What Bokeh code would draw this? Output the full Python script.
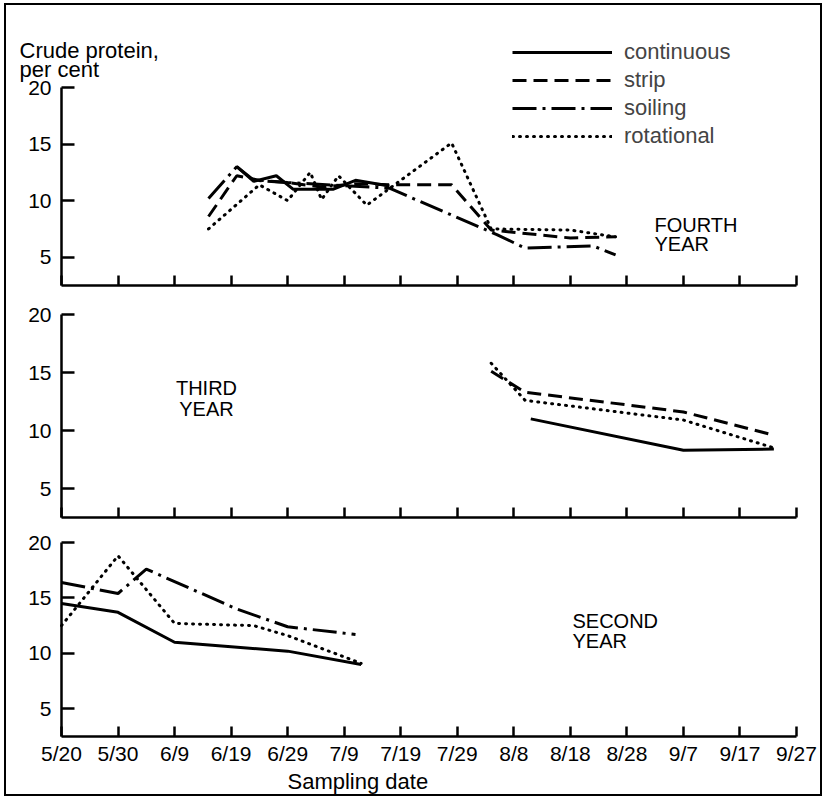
from bokeh.plotting import figure
from bokeh.models import FixedTicker, Label, Legend, LegendItem, Range1d
from bokeh.layouts import column
from bokeh.embed import file_html
from bokeh.resources import INLINE

# ---------------- data ----------------
tick_labels = ["5/20", "5/30", "6/9", "6/19", "6/29", "7/9", "7/19",
               "7/29", "8/8", "8/18", "8/28", "9/7", "9/17", "9/27"]
y_ticks = [5, 10, 15, 20]

# Fourth year
y4_cont_dates = ["6/20", "6/23", "6/27", "6/30", "7/7", "7/11", "7/17"]
y4_cont_vals = [13.0, 11.7, 12.2, 11.0, 11.0, 11.8, 11.3]
y4_strip_dates = ["6/15", "6/20", "6/24", "6/29", "7/5", "7/11", "7/17", "7/28", "8/4", "8/18", "8/26"]
y4_strip_vals = [8.6, 12.2, 11.8, 11.6, 11.2, 11.5, 11.4, 11.4, 7.4, 6.7, 6.8]
y4_soil_dates = ["6/15", "6/20", "6/23", "6/29", "7/17", "8/5", "8/10", "8/22", "8/26"]
y4_soil_vals = [10.2, 13.0, 11.8, 11.6, 11.1, 7.0, 5.8, 6.0, 5.2]
y4_rot_dates = ["6/15", "6/24", "6/29", "7/3", "7/5", "7/8", "7/13", "7/28", "8/4", "8/18", "8/26"]
y4_rot_vals = [7.5, 11.4, 10.0, 12.5, 10.1, 12.2, 9.6, 15.1, 7.5, 7.4, 6.8]

# Third year
y3_cont_dates = ["8/11", "9/7", "9/23"]
y3_cont_vals = [11.0, 8.3, 8.4]
y3_strip_dates = ["8/4", "8/10", "9/7", "9/23"]
y3_strip_vals = [15.1, 13.3, 11.6, 9.6]
y3_rot_dates = ["8/4", "8/10", "9/7", "9/23"]
y3_rot_vals = [15.8, 12.6, 10.9, 8.5]

# Second year
y2_cont_dates = ["5/20", "5/30", "6/9", "6/19", "6/29", "7/12"]
y2_cont_vals = [14.5, 13.7, 11.0, 10.6, 10.2, 9.0]
y2_soil_dates = ["5/20", "5/30", "6/4", "6/20", "6/29", "7/11"]
y2_soil_vals = [16.4, 15.4, 17.6, 14.0, 12.4, 11.7]
y2_rot_dates = ["5/20", "5/30", "6/9", "6/23", "6/29", "7/12"]
y2_rot_vals = [12.5, 18.8, 12.7, 12.5, 11.6, 9.1]

MONTH_START = {5: 0, 6: 31, 7: 61, 8: 92, 9: 123}


def days(md):
    """days since 5/20"""
    m, d = md.split("/")
    return MONTH_START[int(m)] + int(d) - 20


# ---------------- layout geometry (pixels) ----------------
FONT = "Liberation Sans"
INNER_L, INNER_T = 6, 5          # inner top-left of bordered box on the page
WIDTH = 814
AX_X0, AX_X1 = 61, 796           # page x of 5/20 and 9/27
X0, X1 = 0, 130                  # data limits of the x axis (days)
YLO, YHI = 2.5, 20

STYLES = {
    "continuous": dict(line_dash="solid"),
    "strip": dict(line_dash="14 7"),
    "soiling": dict(line_dash="24 6 3 6"),
    "rotational": dict(line_dash="1 6", line_cap="round"),
}

xs = (AX_X1 - AX_X0) / (X1 - X0)
x_start = X0 - (AX_X0 - INNER_L) / xs
x_end = X1 + (INNER_L + WIDTH - AX_X1) / xs


def make_panel(fig_top, fig_bot, py_hi, py_lo, show_labels):
    ys = (py_lo - py_hi) / (YHI - YLO)
    y_end = YHI + (py_hi - fig_top) / ys
    y_start = YLO - (fig_bot - py_lo) / ys
    p = figure(width=WIDTH, height=fig_bot - fig_top,
               x_range=Range1d(x_start, x_end), y_range=Range1d(y_start, y_end),
               output_backend="svg", toolbar_location=None,
               min_border=0, min_border_left=0, min_border_right=0,
               min_border_top=0, min_border_bottom=0)
    p.xgrid.visible = False
    p.ygrid.visible = False
    p.outline_line_color = None
    p.background_fill_color = "white"
    p.border_fill_color = "white"
    for ax in (p.xaxis[0], p.yaxis[0]):
        ax.axis_line_width = 2.5
        ax.axis_line_color = "black"
        ax.major_tick_line_width = 2.5
        ax.major_tick_line_color = "black"
        ax.major_tick_out = 0
        ax.minor_tick_in = 0
        ax.minor_tick_out = 0
        ax.major_label_text_font = FONT
        ax.major_label_text_font_size = "21px"
        ax.major_label_text_color = "black"
    ya = p.yaxis[0]
    ya.ticker = FixedTicker(ticks=y_ticks)
    ya.major_tick_in = 13
    ya.major_label_standoff = 10
    ya.bounds = (YLO, YHI)
    ya.fixed_location = X0
    xa = p.xaxis[0]
    xa.ticker = FixedTicker(ticks=[days(t) for t in tick_labels])
    xa.major_tick_in = 10
    xa.major_label_overrides = {days(t): t for t in tick_labels}
    xa.major_label_standoff = 5
    xa.bounds = (X0, X1)
    xa.fixed_location = YLO
    if not show_labels:
        xa.major_label_text_color = None
    return p, ys


def draw(p, dates, vals, kind):
    return p.line([days(d) for d in dates], vals, line_color="black", line_width=3, **STYLES[kind])


def label(p, x, y, text, align="left", size="22px"):
    p.add_layout(Label(x=x, y=y, text=text, text_font=FONT, text_font_size=size,
                       text_baseline="middle", text_align=align, text_color="black"))


def px_x(px):
    return X0 + (px - AX_X0) / xs


# ---- top panel: fourth year ----
T4, B4 = INNER_T, 298
p4, s4 = make_panel(T4, B4, 87, 285, False)
r_c = draw(p4, y4_cont_dates, y4_cont_vals, "continuous")
r_s = draw(p4, y4_strip_dates, y4_strip_vals, "strip")
r_o = draw(p4, y4_soil_dates, y4_soil_vals, "soiling")
r_r = draw(p4, y4_rot_dates, y4_rot_vals, "rotational")
py4 = lambda px: YHI - (px - 87) / s4
label(p4, px_x(654), py4(224), "FOURTH", size="20px")
label(p4, px_x(654), py4(243), "YEAR", size="20px")
label(p4, px_x(19), py4(50), "Crude protein,")
label(p4, px_x(19), py4(69), "per cent")
legend = Legend(items=[LegendItem(label="continuous", renderers=[r_c]),
                       LegendItem(label="strip", renderers=[r_s]),
                       LegendItem(label="soiling", renderers=[r_o]),
                       LegendItem(label="rotational", renderers=[r_r])],
                location=(512 - INNER_L, B4 - 149), orientation="vertical",
                glyph_width=100, glyph_height=20, label_height=20, label_standoff=12,
                spacing=2, padding=0, margin=0, border_line_color=None,
                background_fill_alpha=0, label_text_font=FONT, label_text_font_size="22px")
p4.add_layout(legend)

# ---- middle panel: third year ----
T3, B3 = B4, 528
p3, s3 = make_panel(T3, B3, 314, 517, False)
draw(p3, y3_cont_dates, y3_cont_vals, "continuous")
draw(p3, y3_strip_dates, y3_strip_vals, "strip")
draw(p3, y3_rot_dates, y3_rot_vals, "rotational")
py3 = lambda px: YHI - (px - 314) / s3
label(p3, px_x(206), py3(387), "THIRD", "center", size="20px")
label(p3, px_x(206), py3(408), "YEAR", "center", size="20px")

# ---- bottom panel: second year ----
T2, B2 = B3, INNER_T + 789
p2, s2 = make_panel(T2, B2, 542, 736, True)
draw(p2, y2_cont_dates, y2_cont_vals, "continuous")
draw(p2, y2_soil_dates, y2_soil_vals, "soiling")
draw(p2, y2_rot_dates, y2_rot_vals, "rotational")
py2 = lambda px: YHI - (px - 542) / s2
label(p2, px_x(572), py2(620), "SECOND", size="20px")
label(p2, px_x(572), py2(640), "YEAR", size="20px")
label(p2, px_x(287), py2(781), "Sampling date")

layout = column(p4, p3, p2, spacing=0,
                styles={"border": "2px solid black", "margin-left": "4px", "margin-top": "3px"})

open("out.html", "w").write(file_html(layout, INLINE))
